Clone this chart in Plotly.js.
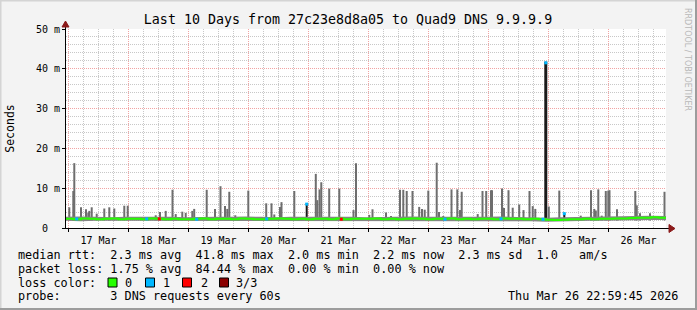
<!DOCTYPE html>
<html><head><meta charset="utf-8">
<script src="https://cdn.plot.ly/plotly-3.0.1.min.js"></script>
<style>html,body{margin:0;padding:0;background:#f3f3f3;}#chart{width:697px;height:310px;}</style>
</head><body><div id="chart"></div>
<script>
// ---------- data ----------
const TITLE = 'Last 10 Days from 27c23e8d8a05 to Quad9 DNS 9.9.9.9';
const X_START = '2026-03-16 23:00';
const X_END = '2026-03-26 23:00';
const Y_TICK_VALUES = [0, 10, 20, 30, 40, 50];
const Y_TICK_LABELS = ['0\u00a0\u00a0', '10 m', '20 m', '30 m', '40 m', '50 m'];

// median rtt (ms), one value every 3 h from X_START
const MEDIAN_STEP_H = 3;
const medianRtt = [
  2.3,2.2,2.4,2.3,2.2,2.3,2.4,2.2,
  2.3,2.3,2.2,2.4,2.3,2.2,2.3,2.2,
  2.2,2.3,2.4,2.2,2.3,2.3,2.2,2.4,
  2.3,2.2,2.2,2.3,2.4,2.3,2.2,2.3,
  2.2,2.3,2.3,2.2,2.4,2.2,2.3,2.3,
  2.3,2.4,2.2,2.3,2.2,2.3,2.4,2.3,
  2.2,2.3,2.3,2.4,2.2,2.3,2.2,2.3,
  2.3,2.2,2.4,2.3,2.3,2.2,2.3,2.2,
  2.1,2.0,2.1,2.2,2.2,2.3,2.2,2.3,
  2.3,2.4,2.4,2.5,2.6,2.6,2.7,2.6,
  2.6];

// baseline smoke band (ms), one value every 6 h from X_START
const SMOKE_STEP_H = 6;
const smokeLow = [
  1.8,1.7,1.8,1.8,1.7,1.8,1.8,1.7,1.8,1.8,
  1.7,1.8,1.8,1.8,1.7,1.8,1.8,1.7,1.8,1.8,
  1.8,1.7,1.8,1.8,1.7,1.8,1.8,1.7,1.8,1.8,
  1.8,1.7,1.6,1.7,1.8,1.8,1.8,1.9,2.0,2.0,
  2.0];
const smokeHigh = [
  2.8,2.9,2.8,2.7,2.8,2.8,2.9,2.8,2.7,2.8,
  2.8,2.8,2.9,2.8,2.7,2.8,2.8,2.9,2.8,2.8,
  2.7,2.8,2.8,2.9,2.8,2.8,2.7,2.8,2.8,2.9,
  2.8,2.7,2.6,2.7,2.8,2.8,2.9,3.0,3.1,3.1,
  3.0];

// smoke spikes: time and max rtt (ms)
const SMOKE_FLOOR = 1.9;
const spikeTimes = [
  '2026-03-17 00:19','2026-03-17 01:55','2026-03-17 02:19','2026-03-17 05:00','2026-03-17 07:00',
  '2026-03-17 07:55','2026-03-17 08:19','2026-03-17 09:17','2026-03-17 11:17','2026-03-17 14:19',
  '2026-03-17 16:19','2026-03-17 18:19','2026-03-17 22:19','2026-03-17 23:41',
  '2026-03-18 10:53','2026-03-18 12:36','2026-03-18 14:53','2026-03-18 17:36','2026-03-18 18:53',
  '2026-03-18 21:31','2026-03-18 22:53',
  '2026-03-19 01:31','2026-03-19 02:17','2026-03-19 07:17','2026-03-19 10:36','2026-03-19 12:48',
  '2026-03-19 14:36','2026-03-19 15:31','2026-03-19 16:19','2026-03-19 18:43','2026-03-19 23:55',
  '2026-03-20 07:05','2026-03-20 09:12','2026-03-20 10:19','2026-03-20 12:36','2026-03-20 13:12',
  '2026-03-20 18:19',
  '2026-03-21 02:55','2026-03-21 03:31','2026-03-21 04:24','2026-03-21 05:07','2026-03-21 08:17',
  '2026-03-21 12:19','2026-03-21 18:00','2026-03-21 19:00',
  '2026-03-22 00:19','2026-03-22 01:36','2026-03-22 07:00','2026-03-22 09:00','2026-03-22 12:36',
  '2026-03-22 13:55','2026-03-22 15:17','2026-03-22 17:36','2026-03-22 20:17','2026-03-22 21:24',
  '2026-03-22 22:29','2026-03-22 23:55',
  '2026-03-23 03:17','2026-03-23 04:12','2026-03-23 05:55','2026-03-23 09:12','2026-03-23 11:31',
  '2026-03-23 12:36','2026-03-23 13:17','2026-03-23 19:41','2026-03-23 21:36','2026-03-23 23:05',
  '2026-03-24 01:00','2026-03-24 01:24','2026-03-24 05:24','2026-03-24 06:12','2026-03-24 08:00',
  '2026-03-24 09:41','2026-03-24 12:17','2026-03-24 14:00','2026-03-24 16:24','2026-03-24 17:41',
  '2026-03-24 18:43','2026-03-25 00:07',
  '2026-03-25 04:19','2026-03-25 12:53','2026-03-25 17:00','2026-03-25 18:19','2026-03-25 18:55',
  '2026-03-25 19:55','2026-03-25 21:17','2026-03-25 22:55','2026-03-25 23:55',
  '2026-03-26 00:24','2026-03-26 03:24','2026-03-26 10:43','2026-03-26 11:19','2026-03-26 12:36',
  '2026-03-26 16:36','2026-03-26 22:24'];
const spikeMax = [
  5.2,9.3,16.3,5.2,4.7,
  3.9,4.3,5.2,3.6,4.9,
  5.2,4.9,5.6,5.6,
  3.2,4.0,4.3,9.6,3.5,
  4.1,3.8,
  4.3,4.8,9.6,4.8,10.5,
  5.5,4.8,9.1,3.2,9.4,
  6.2,6.2,3.4,5.3,6.5,
  9.3,
  13.6,7.0,9.7,11.5,9.9,
  9.9,4.5,16.3,
  3.3,4.7,3.9,3.0,9.6,
  9.6,9.3,9.3,5.3,4.8,
  4.6,9.4,
  16.4,4.0,3.0,9.7,9.7,
  4.5,9.1,3.5,9.3,9.3,
  9.5,9.5,9.9,5.0,9.5,
  5.1,5.9,4.5,9.3,5.5,
  4.8,5.4,
  9.4,3.1,9.5,4.8,4.4,
  9.7,3.1,9.3,9.4,
  9.5,4.7,9.3,5.7,3.7,
  3.7,9.1];

// dense (black) smoke columns
const denseTimes = ['2026-03-20 23:17', '2026-03-24 22:55', '2026-03-25 06:19'];
const denseLow = [2.5, 2.0, 2.2];
const denseHigh = [6.2, 41.8, 3.8];

// samples with 1/3 packet loss (blue) and 2/3 (red)
const loss1Times = ['2026-03-17 03:17','2026-03-18 07:17','2026-03-19 03:17','2026-03-20 07:17',
  '2026-03-23 06:36','2026-03-24 05:00','2026-03-24 21:48',
  '2026-03-20 23:17','2026-03-24 22:55','2026-03-25 06:19'];
const loss1Rtt = [2.3,2.3,2.2,2.3,2.2,2.3,2.2,6.0,41.5,3.6];
const loss2Times = ['2026-03-18 12:19','2026-03-21 13:07'];
const loss2Rtt = [2.3,2.2];

const LEGEND_LINES = [
  'median rtt:  2.3 ms avg  41.8 ms max  2.0 ms min  2.2 ms now  2.3 ms sd  1.0   am/s',
  'packet loss: 1.75 % avg  84.44 % max  0.00 % min  0.00 % now',
  'loss color:',
  'probe:       3 DNS requests every 60s'
];
const LOSS_LABELS = ['0', '1', '2', '3/3'];
const LOSS_COLORS = ['#26ff00', '#00b8ff', '#ff0000', '#8a0000'];
const TIMESTAMP = 'Thu Mar 26 22:59:45 2026';

// ---------- drawing ----------
const FONT = 'DejaVu Sans Mono';
const L = 66, R = 666, T = 29, B = 228;
const px = x => (x - L) / (R - L);
const py = y => (B - y) / (B - T);
const nb = s => s.replace(/ /g, '\u00a0');
const t0 = Date.UTC(2026, 2, 16, 23, 0);
const HOUR = 3600000;
const medianX = medianRtt.map((_, i) => t0 + i * MEDIAN_STEP_H * HOUR);
const smokeX = smokeLow.map((_, i) => t0 + i * SMOKE_STEP_H * HOUR);
const MIN_PER_PX = 24; // 10 days over 600 px

const traces = [
  {type: 'bar', x: spikeTimes, y: spikeMax.map(v => v - SMOKE_FLOOR), base: SMOKE_FLOOR,
   width: 2 * MIN_PER_PX * 60000, marker: {color: '#6e6e6e', line: {width: 0}}, hoverinfo: 'skip'},
  {type: 'bar', x: denseTimes, y: denseHigh.map((v, i) => v - denseLow[i]), base: denseLow,
   width: [2, 3, 2].map(w => w * MIN_PER_PX * 60000), marker: {color: '#1a1a1a', line: {width: 0}}},
  {type: 'scatter', mode: 'lines', x: smokeX, y: smokeLow, line: {width: 0}, hoverinfo: 'skip'},
  {type: 'scatter', mode: 'lines', x: smokeX, y: smokeHigh, line: {width: 0}, fill: 'tonexty',
   fillcolor: '#858585', hoverinfo: 'skip'},
  {type: 'scatter', mode: 'lines', x: medianX, y: medianRtt, line: {color: LOSS_COLORS[0], width: 2, shape: 'hv'}},
  {type: 'scatter', mode: 'markers', x: loss1Times, y: loss1Rtt,
   marker: {color: LOSS_COLORS[1], symbol: 'square', size: 3, line: {width: 0}}},
  {type: 'scatter', mode: 'markers', x: loss2Times, y: loss2Rtt,
   marker: {color: LOSS_COLORS[2], symbol: 'square', size: 3, line: {width: 0}}}
];

const gridDash = '1px,1px';
const annotations = [];
const lineY = [255, 268.5, 282.5, 296];
LEGEND_LINES.forEach((s, i) => annotations.push({
  xref: 'paper', yref: 'paper', x: px(16), y: py(lineY[i]), xanchor: 'left', yanchor: 'middle',
  text: nb(s), showarrow: false, font: {family: FONT, size: 11.8, color: '#000'}
}));
const sqX = [108, 145.5, 182.5, 219.5];
const lblX = [123, 161, 198.5, 234];
const shapes = [];
LOSS_LABELS.forEach((s, i) => {
  annotations.push({xref: 'paper', yref: 'paper', x: px(lblX[i]), y: py(lineY[2]), xanchor: 'left',
    yanchor: 'middle', text: s, showarrow: false, font: {family: FONT, size: 11.8, color: '#000'}});
  shapes.push({type: 'rect', xref: 'paper', yref: 'paper', x0: px(sqX[i]), x1: px(sqX[i] + 9),
    y0: py(lineY[2] - 4.5), y1: py(lineY[2] + 4.5), fillcolor: LOSS_COLORS[i], line: {color: '#000', width: 1}});
});
annotations.push({xref: 'paper', yref: 'paper', x: px(680), y: py(296), xanchor: 'right', yanchor: 'middle',
  text: nb(TIMESTAMP), showarrow: false, font: {family: FONT, size: 11.8, color: '#000'}});
annotations.push({xref: 'paper', yref: 'paper', x: px(688), y: py(59), xanchor: 'center', yanchor: 'middle',
  text: 'RRDTOOL / TOBI OETIKER', textangle: 90, showarrow: false,
  font: {family: 'DejaVu Sans', size: 8, color: '#b8b8b8'}});

// axis arrows and extensions
const AR = '#8b1a1a';
shapes.push({type: 'line', xref: 'paper', yref: 'paper', x0: px(R), x1: px(670), y0: py(B + 0.5), y1: py(B + 0.5), line: {color: '#000', width: 1}});
shapes.push({type: 'line', xref: 'paper', yref: 'paper', x0: px(L - 0.5), x1: px(L - 0.5), y0: py(T), y1: py(25), line: {color: '#000', width: 1}});
shapes.push({type: 'path', xref: 'paper', yref: 'paper',
  path: `M ${px(669)} ${py(B - 3.5)} L ${px(675)} ${py(B + 0.5)} L ${px(669)} ${py(B + 4.5)} Z`,
  fillcolor: AR, line: {color: AR, width: 1}});
shapes.push({type: 'path', xref: 'paper', yref: 'paper',
  path: `M ${px(L - 4)} ${py(27)} L ${px(L - 0.5)} ${py(21)} L ${px(L + 3)} ${py(27)} Z`,
  fillcolor: AR, line: {color: AR, width: 1}});
// frame
shapes.push({type: 'line', xref: 'paper', yref: 'paper', x0: px(0), x1: px(697), y0: py(0.5), y1: py(0.5), line: {color: '#d4d4d4', width: 2}});
shapes.push({type: 'line', xref: 'paper', yref: 'paper', x0: px(0.5), x1: px(0.5), y0: py(0), y1: py(310), line: {color: '#d4d4d4', width: 2}});
shapes.push({type: 'line', xref: 'paper', yref: 'paper', x0: px(0), x1: px(697), y0: py(309), y1: py(309), line: {color: '#9c9c9c', width: 2}});
shapes.push({type: 'line', xref: 'paper', yref: 'paper', x0: px(696), x1: px(696), y0: py(0), y1: py(310), line: {color: '#9c9c9c', width: 2}});

const layout = {
  width: 697, height: 310,
  margin: {l: L, r: 697 - R, t: T, b: 310 - B, pad: 0},
  paper_bgcolor: '#f3f3f3', plot_bgcolor: '#ffffff',
  showlegend: false, barmode: 'overlay', hovermode: false,
  title: {text: TITLE, x: 348 / 697, xref: 'container', xanchor: 'center',
          y: 1 - 19 / 310, yref: 'container', yanchor: 'middle',
          font: {family: FONT, size: 13.3, color: '#000'}},
  xaxis: {type: 'date', range: [X_START, X_END], tick0: '2026-03-17', dtick: 86400000,
          ticklabelmode: 'period', tickformat: '%d %b',
          showgrid: true, gridcolor: '#f2a4a4', griddash: gridDash, gridwidth: 1,
          minor: {dtick: 6 * HOUR, tick0: '2026-03-17', showgrid: true, gridcolor: '#c8c8c8', griddash: gridDash, ticks: ''},
          ticks: 'outside', ticklen: 3, tickcolor: '#000', showline: true, linecolor: '#000', linewidth: 1,
          zeroline: false, tickfont: {family: FONT, size: 10, color: '#000'}, fixedrange: true},
  yaxis: {range: [0, 50], tickmode: 'array', tickvals: Y_TICK_VALUES, ticktext: Y_TICK_LABELS,
          showgrid: true, gridcolor: '#f2a4a4', griddash: gridDash, gridwidth: 1,
          minor: {dtick: 2, showgrid: true, gridcolor: '#c8c8c8', griddash: gridDash, ticks: ''},
          ticks: 'outside', ticklen: 3, tickcolor: '#000', showline: true, linecolor: '#000', linewidth: 1,
          zeroline: false, tickfont: {family: FONT, size: 10, color: '#000'}, fixedrange: true,
          title: {text: 'Seconds', standoff: 18, font: {family: FONT, size: 11.5, color: '#000'}}},
  annotations: annotations, shapes: shapes
};
Plotly.newPlot('chart', traces, layout, {staticPlot: true, displayModeBar: false});
</script></body></html>
